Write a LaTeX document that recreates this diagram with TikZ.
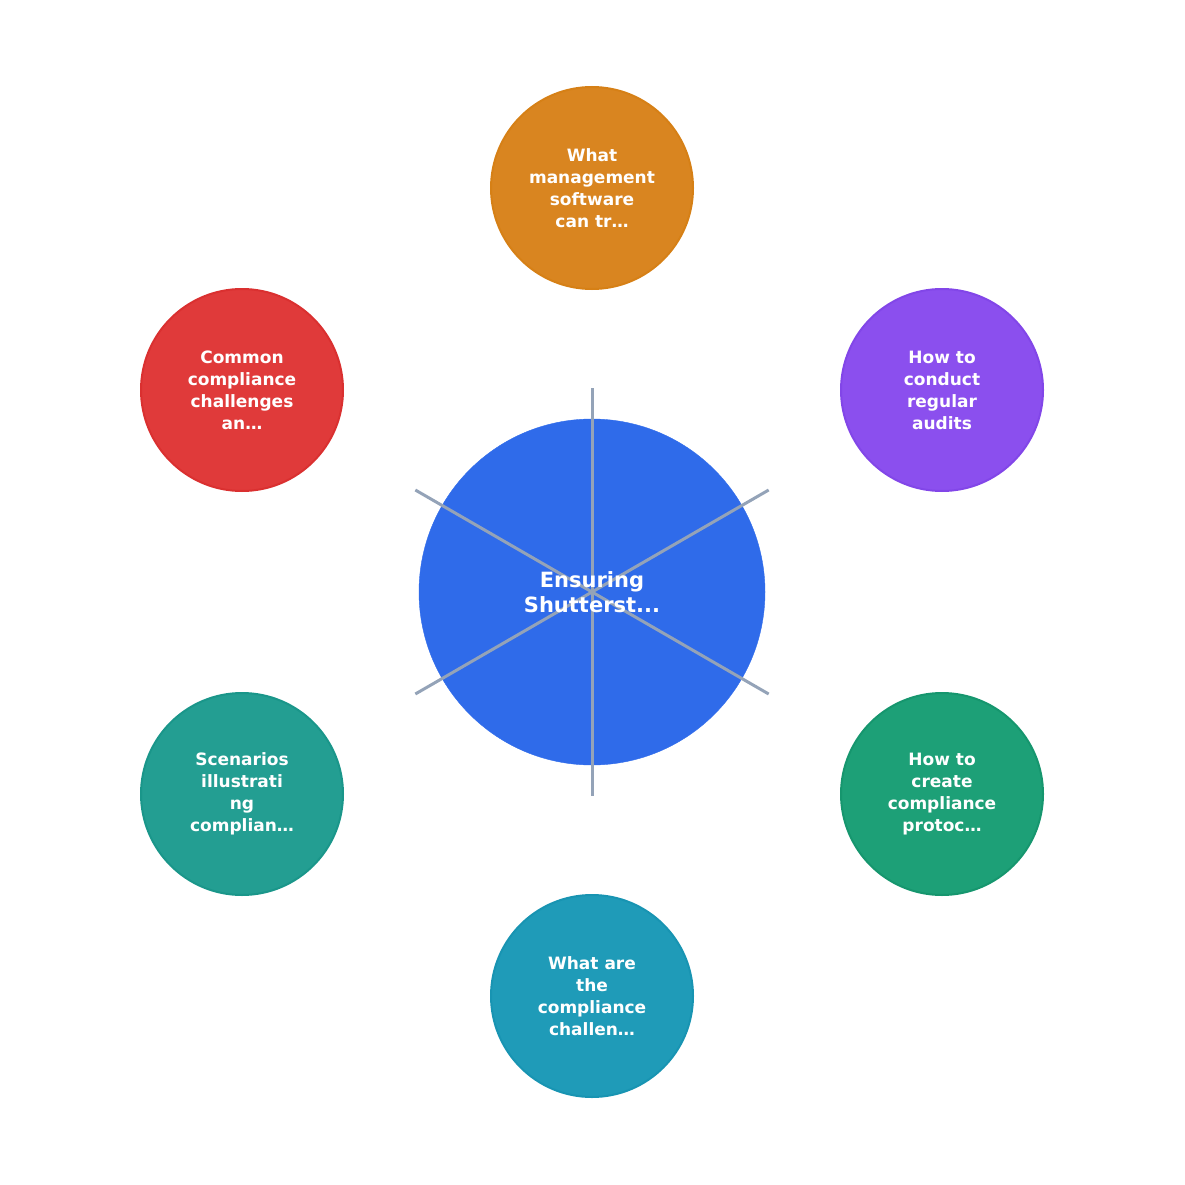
\documentclass[tikz,border=0pt]{standalone}
\usepackage{fontspec}
\usetikzlibrary{calc}
\setmainfont{DejaVu Sans}
\begin{document}
\begin{tikzpicture}[x=1pt,y=-1pt,
  sat/.style={circle,minimum size=202pt,inner sep=0pt,line width=2pt,text=white,align=center,font=\bfseries\fontsize{17}{22}\selectfont},
  spoke/.style={draw=spokec,line width=3pt}]
\definecolor{spokec}{HTML}{94A3B8}
\useasboundingbox (0,0) rectangle (1185,1185);
\node[circle,minimum size=346pt,inner sep=0pt,fill={rgb,255:red,47;green,107;blue,234},draw={rgb,255:red,47;green,107;blue,234}] (c) at (592,592) {};
\foreach \n/\a in {s1/90,s2/30,s3/-30,s4/-90,s5/-150,s6/150}
  \coordinate (\n) at ($(592,592)+(\a:204)$);
\foreach \n in {s1,s2,s3,s4,s5,s6} \draw[spoke] (c.center) -- (\n);
\node[text=white,align=center,font=\bfseries\fontsize{21}{25}\selectfont] (ct) at (592,592) {Ensuring\\Shutterst...};
\node[sat,fill={rgb,255:red,217;green,133;blue,32},draw={rgb,255:red,214;green,128;blue,22}] (a) at (592,188) {What\\management\\software\\can tr…};
\node[sat,fill={rgb,255:red,139;green,79;blue,238},draw={rgb,255:red,130;green,70;blue,232}] (b) at (942,390) {How to\\conduct\\regular\\audits};
\node[sat,fill={rgb,255:red,29;green,160;blue,119},draw={rgb,255:red,22;green,150;blue,110}] (d) at (942,794) {How to\\create\\compliance\\protoc…};
\node[sat,fill={rgb,255:red,31;green,155;blue,184},draw={rgb,255:red,24;green,148;blue,178}] (e) at (592,996) {What are\\the\\compliance\\challen…};
\node[sat,fill={rgb,255:red,35;green,158;blue,146},draw={rgb,255:red,26;green,150;blue,138}] (f) at (242,794) {Scenarios\\illustrati\\ng\\complian…};
\node[sat,fill={rgb,255:red,224;green,58;blue,58},draw={rgb,255:red,218;green,48;blue,48}] (g) at (242,390) {Common\\compliance\\challenges\\an…};
\end{tikzpicture}
\end{document}
